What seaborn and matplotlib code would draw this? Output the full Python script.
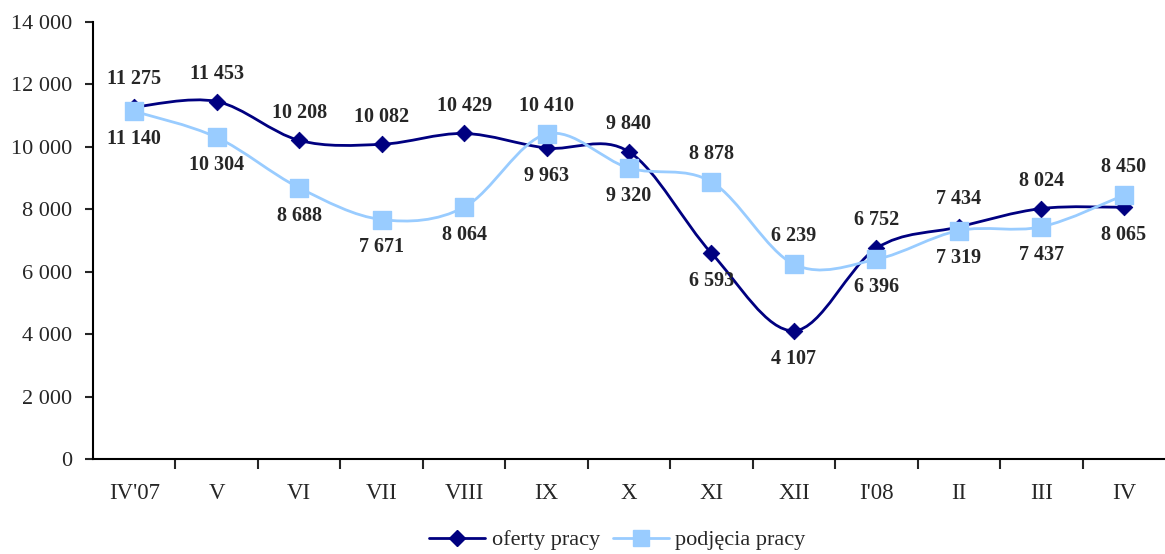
import numpy as np
import pandas as pd
import seaborn as sns
import matplotlib.pyplot as plt
from matplotlib.path import Path
from matplotlib.patches import PathPatch
from matplotlib.lines import Line2D

months = ["IV'07", "V", "VI", "VII", "VIII", "IX", "X", "XI", "XII", "I'08", "II", "III", "IV"]
oferty = [11275, 11453, 10208, 10082, 10429, 9963, 9840, 6593, 4107, 6752, 7434, 8024, 8065]
podjecia = [11140, 10304, 8688, 7671, 8064, 10410, 9320, 8878, 6239, 6396, 7319, 7437, 8450]

# label placement: 1 = above the point, -1 = below
oferty_pos = [1, 1, 1, 1, 1, -1, 1, -1, -1, 1, 1, 1, -1]
podjecia_pos = [-1, -1, -1, -1, -1, 1, -1, 1, 1, -1, -1, -1, 1]

DARK = "#000080"
LIGHT = "#99CCFF"

sns.set_style("white")
plt.rcParams["font.family"] = ["Liberation Serif", "DejaVu Serif"]


def fmt(v):
    return f"{v:,}".replace(",", " ")


def smooth_path(x, y):
    # Excel-style smoothed line: cubic Bezier segments through the points
    pts = np.column_stack([x, y]).astype(float)
    n = len(pts)
    verts = [pts[0]]
    codes = [Path.MOVETO]
    for i in range(n - 1):
        p0 = pts[i - 1] if i > 0 else pts[i]
        p1, p2 = pts[i], pts[i + 1]
        p3 = pts[i + 2] if i + 2 < n else pts[i + 1]
        c1 = p1 + (p2 - p0) / 6
        c2 = p2 - (p3 - p1) / 6
        verts += [c1, c2, p2]
        codes += [Path.CURVE4] * 3
    return Path(verts, codes)


df = pd.DataFrame({"month": months, "x": range(len(months)),
                   "oferty": oferty, "podjecia": podjecia})

fig = plt.figure(figsize=(11.65, 5.54), dpi=100)
ax = fig.add_axes([93 / 1165, 1 - 459 / 554, 1 - 93 / 1165, (459 - 22) / 554])

for col, color, lw in [("oferty", DARK, 2.0), ("podjecia", LIGHT, 2.0)]:
    ax.add_patch(PathPatch(smooth_path(df["x"], df[col]), facecolor="none",
                           edgecolor=color, lw=lw, zorder=2))

sns.scatterplot(data=df, x="x", y="oferty", marker="D", s=70, color=DARK,
                edgecolor=DARK, ax=ax, zorder=3)
sns.scatterplot(data=df, x="x", y="podjecia", marker="s", s=150, color=LIGHT,
                edgecolor=LIGHT, ax=ax, zorder=4)

for series, pos in [(oferty, oferty_pos), (podjecia, podjecia_pos)]:
    for i, (v, p) in enumerate(zip(series, pos)):
        ax.annotate(fmt(v), (i, v), xytext=(0, 20 * p), textcoords="offset points",
                    ha="center", va="center", fontsize=14.5, fontweight="bold")

ax.set_xlim(-0.5, len(months) - 0.5)
ax.set_ylim(0, 14000)
ax.set_yticks(range(0, 14001, 2000))
ax.set_yticklabels([fmt(v) for v in range(0, 14001, 2000)], fontsize=16)
ax.set_xticks(range(len(months)))
ax.set_xticklabels(months, fontsize=16.5)
ax.set_xticks(np.arange(0.5, len(months) - 0.5, 1), minor=True)
ax.tick_params(axis="x", which="major", length=0, pad=17)
ax.tick_params(axis="x", which="minor", length=7, width=1.5, direction="out", bottom=True)
ax.tick_params(axis="y", length=6, width=1.5, direction="out", left=True, pad=9)
ax.set_xlabel("")
ax.set_ylabel("")

for s in ["top", "right"]:
    ax.spines[s].set_visible(False)
for s in ["left", "bottom"]:
    ax.spines[s].set_linewidth(1.5)
    ax.spines[s].set_color("black")

handles = [
    Line2D([], [], color=DARK, lw=2, marker="D", markersize=8, markeredgecolor=DARK),
    Line2D([], [], color=LIGHT, lw=2, marker="s", markersize=11, markeredgecolor=LIGHT),
]
fig.legend(handles, ["oferty pracy", "podjęcia pracy"], loc="center",
           bbox_to_anchor=(0.53, 0.025), ncol=2, frameon=False, fontsize=16,
           handlelength=2.5, columnspacing=0.6, handletextpad=0.3)

fig.savefig("out.png", dpi=100)
